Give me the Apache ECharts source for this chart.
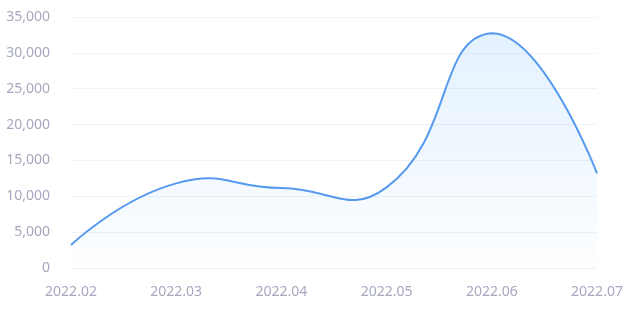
<!DOCTYPE html>
<html>
<head>
<meta charset="utf-8">
<script src="https://cdn.jsdelivr.net/npm/echarts@6/dist/echarts.min.js"></script>
<style>
html,body{margin:0;padding:0;background:#fff;}
#main{width:630px;height:311px;}
</style>
</head>
<body>
<div id="main"></div>
<script>
const categories = ['2022.02', '2022.03', '2022.04', '2022.05', '2022.06', '2022.07'];
const values = [3200, 11800, 11150, 11250, 32750, 13200];

const SMOOTH = 0.5;

// Classic (non-clamped) Catmull-like smoothing, as in older ECharts line charts.
function buildSmoothPath(pts) {
  let minX = Infinity, minY = Infinity, maxX = -Infinity, maxY = -Infinity;
  pts.forEach(p => {
    minX = Math.min(minX, p[0]); maxX = Math.max(maxX, p[0]);
    minY = Math.min(minY, p[1]); maxY = Math.max(maxY, p[1]);
  });
  const clamp = (c) => [Math.min(Math.max(c[0], minX), maxX), Math.min(Math.max(c[1], minY), maxY)];
  let d = 'M' + pts[0][0] + ' ' + pts[0][1];
  let cp0 = pts[0].slice();
  for (let i = 1; i < pts.length; i++) {
    const p = pts[i], prev = pts[i - 1], next = pts[i + 1];
    let cp1, v = [0, 0], ratio = 0.5;
    if (!next) {
      cp1 = p.slice();
    } else {
      v = [next[0] - prev[0], next[1] - prev[1]];
      const lp = Math.hypot(p[0] - prev[0], p[1] - prev[1]);
      const ln = Math.hypot(p[0] - next[0], p[1] - next[1]);
      ratio = ln / (ln + lp);
      cp1 = [p[0] - v[0] * SMOOTH * (1 - ratio), p[1] - v[1] * SMOOTH * (1 - ratio)];
    }
    const a = clamp(cp0), b = clamp(cp1);
    d += ' C' + a[0] + ' ' + a[1] + ' ' + b[0] + ' ' + b[1] + ' ' + p[0] + ' ' + p[1];
    cp0 = [p[0] + v[0] * SMOOTH * ratio, p[1] + v[1] * SMOOTH * ratio];
  }
  return d;
}

const chart = echarts.init(document.getElementById('main'), null, { renderer: 'canvas' });
chart.setOption({
  animation: false,
  grid: { left: 71, right: 33, top: 17, bottom: 43, containLabel: false },
  xAxis: {
    type: 'category',
    data: categories,
    boundaryGap: false,
    axisLine: { show: false },
    axisTick: { show: false },
    axisLabel: { color: '#a6a9bf', fontSize: 14, fontFamily: 'Noto Sans', margin: 17 }
  },
  yAxis: {
    type: 'value',
    min: 0,
    max: 35000,
    interval: 5000,
    axisLine: { show: false },
    axisTick: { show: false },
    axisLabel: {
      color: '#a6a9bf', fontSize: 14, fontFamily: 'Noto Sans', margin: 21,
      formatter: v => v.toLocaleString('en-US')
    },
    splitLine: { lineStyle: { color: '#f1f2f5', width: 1 } }
  },
  series: [{
    type: 'custom',
    data: values.map((v, i) => [i, v]),
    encode: { x: 0, y: 1 },
    renderItem: function (params, api) {
      if (params.dataIndex !== 0) return null;
      const pts = values.map((v, i) => api.coord([i, v]));
      const base = api.coord([0, 0])[1];
      const line = buildSmoothPath(pts);
      const area = line + ' L' + pts[pts.length - 1][0] + ' ' + base + ' L' + pts[0][0] + ' ' + base + ' Z';
      return {
        type: 'group',
        children: [
          {
            type: 'path',
            shape: { pathData: area },
            style: {
              fill: new echarts.graphic.LinearGradient(0, 0, 0, 1, [
                { offset: 0, color: 'rgba(60,160,250,0.14)' },
                { offset: 1, color: 'rgba(60,160,250,0.01)' }
              ]),
              stroke: null
            }
          },
          {
            type: 'path',
            shape: { pathData: line },
            style: { fill: null, stroke: '#559af0', lineWidth: 2 }
          }
        ]
      };
    }
  }]
});
</script>
</body>
</html>
